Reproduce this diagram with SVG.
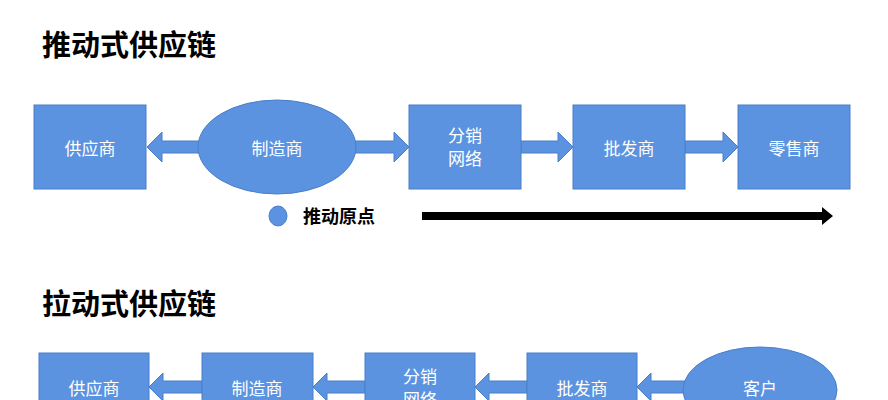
<svg xmlns="http://www.w3.org/2000/svg" width="888" height="400" viewBox="0 0 888 400">
<style>
.n{fill:#5b93e0;stroke:#4a7fc8;stroke-width:1}
.t{font-family:"Noto Sans CJK SC",sans-serif;font-size:17px;fill:#fff;text-anchor:middle;dominant-baseline:central}
.h{font-family:"Noto Sans CJK SC",sans-serif;font-size:29px;font-weight:bold;fill:#000}
.a{fill:#5b93e0;stroke:#4a7fc8;stroke-width:1}
</style>
<rect width="888" height="400" fill="#fff"/>
<text class="h" x="42" y="56">推动式供应链</text>
<text class="h" x="42" y="315">拉动式供应链</text>
<g id="connectors">
<polygon class="a" points="147,147 162,132 162,141 205,141 205,153 162,153 162,162"/>
<polygon class="a" points="409,147 394,132 394,141 355,141 355,153 394,153 394,162"/>
<polygon class="a" points="573,147 558,132 558,141 521,141 521,153 558,153 558,162"/>
<polygon class="a" points="738,147 723,132 723,141 685,141 685,153 723,153 723,162"/>
<polygon class="a" points="149,387 163,373 163,381 202,381 202,393 163,393 163,401"/>
<polygon class="a" points="313,387 327,373 327,381 365,381 365,393 327,393 327,401"/>
<polygon class="a" points="475,387 489,373 489,381 527,381 527,393 489,393 489,401"/>
<polygon class="a" points="637,387 651,373 651,381 690,381 690,393 651,393 651,401"/>
<polygon fill="#000" points="422,212 822,212 822,207 833,216 822,225 822,220 422,220"/>
</g>
<g id="n1"><rect class="n" x="34" y="105" width="112" height="84"/><text class="t" x="90" y="147">供应商</text></g>
<g id="n2"><ellipse class="n" cx="277" cy="147" rx="79" ry="47"/><text class="t" x="277" y="147">制造商</text></g>
<g id="n3"><rect class="n" x="409" y="105" width="112" height="84"/><text class="t" x="465" y="134">分销</text><text class="t" x="465" y="157">网络</text></g>
<g id="n4"><rect class="n" x="573" y="105" width="112" height="84"/><text class="t" x="629" y="147">批发商</text></g>
<g id="n5"><rect class="n" x="738" y="105" width="112" height="84"/><text class="t" x="794" y="147">零售商</text></g>
<g id="legend"><ellipse class="n" cx="278" cy="216" rx="9" ry="10"/><text x="303" y="215" font-family="Noto Sans CJK SC,sans-serif" font-size="18" font-weight="bold" dominant-baseline="central">推动原点</text></g>
<g id="m1"><rect class="n" x="39" y="353" width="110" height="60"/><text class="t" x="94" y="387">供应商</text></g>
<g id="m2"><rect class="n" x="202" y="353" width="111" height="60"/><text class="t" x="257" y="387">制造商</text></g>
<g id="m3"><rect class="n" x="365" y="353" width="110" height="60"/><text class="t" x="420" y="375">分销</text><text class="t" x="420" y="398">网络</text></g>
<g id="m4"><rect class="n" x="527" y="353" width="110" height="60"/><text class="t" x="582" y="387">批发商</text></g>
<g id="m5"><ellipse class="n" cx="760" cy="390" rx="77" ry="43"/><text class="t" x="760" y="387">客户</text></g>
</svg>
